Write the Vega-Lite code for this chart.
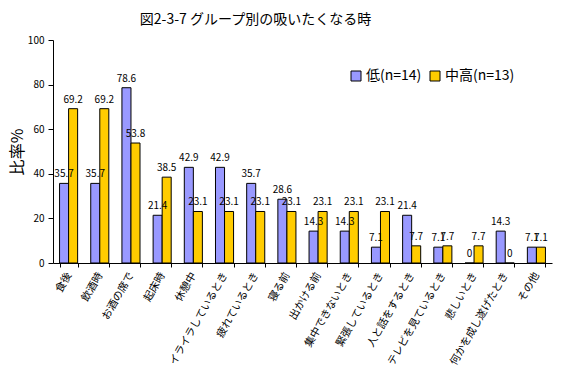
{
  "$schema": "https://vega.github.io/schema/vega-lite/v6.json",
  "autosize": "none",
  "padding": {"left": 53, "top": 40, "right": 15, "bottom": 108},
  "width": 499,
  "height": 223,
  "background": "white",
  "config": {
    "font": "Noto Sans CJK JP",
    "view": {"stroke": null},
    "axis": {"grid": false, "domainColor": "black", "tickColor": "black", "labelColor": "black", "titleColor": "black", "labelFont": "Noto Sans CJK JP", "titleFont": "Noto Sans CJK JP"}
  },
  "title": {"text": "図2-3-7  グループ別の吸いたくなる時", "fontSize": 14, "fontWeight": "normal", "font": "Noto Sans CJK JP", "color": "black", "anchor": "middle", "frame": "group", "dx": -47, "offset": 8},
  "data": {"values": [
    {"cat": "食後", "group": "低(n=14)", "value": 35.7},
    {"cat": "食後", "group": "中高(n=13)", "value": 69.2},
    {"cat": "飲酒時", "group": "低(n=14)", "value": 35.7},
    {"cat": "飲酒時", "group": "中高(n=13)", "value": 69.2},
    {"cat": "お酒の席で", "group": "低(n=14)", "value": 78.6},
    {"cat": "お酒の席で", "group": "中高(n=13)", "value": 53.8},
    {"cat": "起床時", "group": "低(n=14)", "value": 21.4},
    {"cat": "起床時", "group": "中高(n=13)", "value": 38.5},
    {"cat": "休憩中", "group": "低(n=14)", "value": 42.9},
    {"cat": "休憩中", "group": "中高(n=13)", "value": 23.1},
    {"cat": "イライラしているとき", "group": "低(n=14)", "value": 42.9},
    {"cat": "イライラしているとき", "group": "中高(n=13)", "value": 23.1},
    {"cat": "疲れているとき", "group": "低(n=14)", "value": 35.7},
    {"cat": "疲れているとき", "group": "中高(n=13)", "value": 23.1},
    {"cat": "寝る前", "group": "低(n=14)", "value": 28.6},
    {"cat": "寝る前", "group": "中高(n=13)", "value": 23.1},
    {"cat": "出かける前", "group": "低(n=14)", "value": 14.3},
    {"cat": "出かける前", "group": "中高(n=13)", "value": 23.1},
    {"cat": "集中できないとき", "group": "低(n=14)", "value": 14.3},
    {"cat": "集中できないとき", "group": "中高(n=13)", "value": 23.1},
    {"cat": "緊張しているとき", "group": "低(n=14)", "value": 7.1},
    {"cat": "緊張しているとき", "group": "中高(n=13)", "value": 23.1},
    {"cat": "人と話をするとき", "group": "低(n=14)", "value": 21.4},
    {"cat": "人と話をするとき", "group": "中高(n=13)", "value": 7.7},
    {"cat": "テレビを見ているとき", "group": "低(n=14)", "value": 7.1},
    {"cat": "テレビを見ているとき", "group": "中高(n=13)", "value": 7.7},
    {"cat": "悲しいとき", "group": "低(n=14)", "value": 0},
    {"cat": "悲しいとき", "group": "中高(n=13)", "value": 7.7},
    {"cat": "何かを成し遂げたとき", "group": "低(n=14)", "value": 14.3},
    {"cat": "何かを成し遂げたとき", "group": "中高(n=13)", "value": 0},
    {"cat": "その他", "group": "低(n=14)", "value": 7.1},
    {"cat": "その他", "group": "中高(n=13)", "value": 7.1}
  ]},
  "encoding": {
    "x": {"field": "cat", "type": "nominal", "sort": null,
      "scale": {"paddingInner": 0.42, "paddingOuter": 0.21},
      "axis": {"title": null, "labelAngle": -60, "labelAlign": "right", "labelBaseline": "middle", "labelFontSize": 10.5, "labelPadding": 6, "tickBand": "extent", "tickSize": 4, "labelOverlap": false, "labelLimit": 200}},
    "xOffset": {"field": "group", "type": "nominal", "sort": ["低(n=14)", "中高(n=13)"]},
    "y": {"field": "value", "type": "quantitative",
      "scale": {"domain": [0, 100]},
      "axis": {"values": [0, 20, 40, 60, 80, 100], "title": "比率%", "titleFontSize": 16, "titleFontWeight": "normal", "titlePadding": 2, "labelFontSize": 10, "tickSize": 5, "labelPadding": 4}}
  },
  "layer": [
    {
      "mark": {"type": "bar", "stroke": "black", "strokeWidth": 1},
      "encoding": {
        "color": {"field": "group", "type": "nominal",
          "scale": {"domain": ["低(n=14)", "中高(n=13)"], "range": ["#9999FF", "#FFCC00"]},
          "legend": {"title": null, "orient": "none", "legendX": 296, "legendY": 29, "direction": "horizontal", "symbolType": "square", "symbolSize": 100, "symbolStrokeColor": "black", "symbolStrokeWidth": 1, "labelFontSize": 14, "labelFont": "Noto Sans CJK JP", "labelColor": "black", "columnPadding": 6, "labelOffset": 3}}
      }
    },
    {
      "mark": {"type": "text", "baseline": "bottom", "dy": -4, "fontSize": 10, "color": "black"},
      "encoding": {"text": {"field": "value", "type": "quantitative"}}
    }
  ]
}
